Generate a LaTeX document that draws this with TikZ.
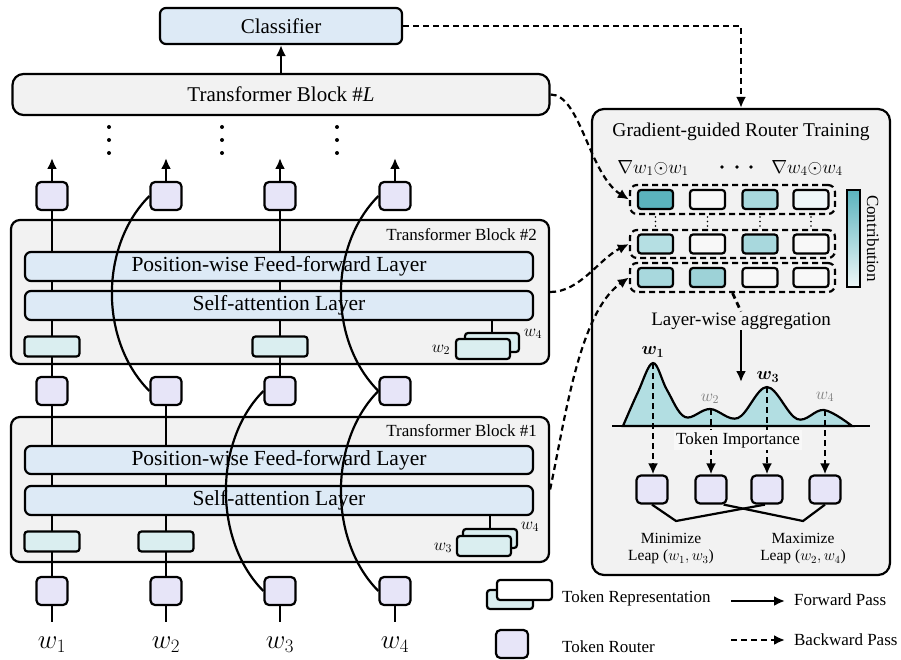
\RequirePackage{fix-cm}
\documentclass[tikz,border=0pt]{standalone}
\usepackage{bm}
\usepackage{fontspec}
\setmainfont{Liberation Serif}
\usetikzlibrary{arrows.meta,calc}
\definecolor{blockc}{HTML}{F2F2F2}
\definecolor{layerc}{HTML}{DDEAF6}
\definecolor{routerc}{HTML}{E7E5F8}
\definecolor{repc}{HTML}{DAEEF0}
\definecolor{curvec}{HTML}{B2DEE2}
\definecolor{cdark}{HTML}{5BB3BD}
\definecolor{cmed}{HTML}{A8D8DD}
\definecolor{cmedb}{HTML}{9DD2D7}
\definecolor{clite}{HTML}{B5DFE3}
\definecolor{cpale}{HTML}{EEF7F8}
\definecolor{cwhite}{HTML}{F8F8F8}
\definecolor{tokc}{HTML}{F8F8F8}
\newcommand{\myfs}[1]{\fontsize{#1}{#1}\selectfont}
\tikzset{every path/.append style={line width=2.2pt}}
\begin{document}
\begin{tikzpicture}[x=1pt,y=-1pt,line width=2.2pt,
  router/.style={draw,fill=routerc,rounded corners=4.5pt,minimum width=31pt,minimum height=28pt,inner sep=0pt},
  rep/.style={draw,fill=repc,rounded corners=3pt,minimum width=55pt,minimum height=20pt,inner sep=0pt},
  layerbox/.style={draw,fill=layerc,rounded corners=6pt,minimum width=508pt,minimum height=29pt,inner sep=0pt,font=\myfs{21.5}},
  blockbox/.style={draw,fill=blockc,rounded corners=9pt,minimum width=538pt,inner sep=0pt},
  cell/.style={draw,rounded corners=3pt,minimum width=35pt,minimum height=19pt,inner sep=0pt},
  rowbox/.style={draw,dash pattern=on 6pt off 4pt,rounded corners=7pt,minimum width=205pt,inner sep=0pt},
  conn/.style={draw,line width=2.2pt},
  vconn/.style={draw,line width=2.8pt},
  fwd/.style={vconn,-{Latex[length=11pt,width=10pt]}},
  bwd/.style={conn,dash pattern=on 6pt off 4pt,-{Latex[length=11pt,width=10pt]}},
  vbwd/.style={vconn,dash pattern=on 6pt off 4pt,-{Latex[length=11pt,width=10pt]}},
  lbl/.style={inner sep=0pt}
]
\useasboundingbox (0,0) rectangle (901,660);

% ---------- background boxes ----------
\node[blockbox,minimum width=537pt,minimum height=41pt,rounded corners=11pt,font=\myfs{21}] (bL) at (281,94.5) {Transformer Block \#\textit{L}};
\node[blockbox,minimum height=144pt] (b2) at (280,292) {};
\node[blockbox,minimum height=145pt] (b1) at (280,489.5) {};
\node[draw,fill=blockc,rounded corners=12pt,minimum width=298pt,minimum height=466pt,inner sep=0pt] (panel) at (741,342) {};

\node[draw,fill=layerc,rounded corners=6pt,minimum width=242pt,minimum height=36pt,inner sep=0pt,font=\myfs{21}] (cls) at (281,26) {Classifier};

% routers
\foreach \i/\x in {1/52,2/166,3/280,4/395}{
  \node[router] (r1\i) at (\x,591) {};
  \node[router] (r2\i) at (\x,391) {};
  \node[router] (r3\i) at (\x,196) {};
  \coordinate (top\i) at (\x,158);
  \coordinate (bot\i) at (\x,622);
}

% ---------- straight connectors (under layers) ----------
\path[vconn] (r11) -- (r21);
\path[vconn] (r21) -- (r31);
\path[vconn] (r12) -- (r22);
\path[vconn] (r23) -- (r33);
\foreach \i in {1,2,3,4}{
  \path[vconn] (r1\i.south) -- (bot\i);
  \path[fwd] (r3\i.north) -- (top\i);
}
\path[fwd] (bL) -- (cls);

\node[lbl,anchor=east,font=\myfs{17}] (t2) at (538,235) {Transformer Block \#2};
\node[lbl,anchor=east,font=\myfs{17}] (t1) at (538,431) {Transformer Block \#1};

% layers
\node[layerbox] (ff2) at (279,266.5) {Position-wise Feed-forward Layer};
\node[layerbox] (sa2) at (279,305.5) {Self-attention Layer};
\node[layerbox,minimum height=28pt] (ff1) at (279,460) {Position-wise Feed-forward Layer};
\node[layerbox] (sa1) at (279,500.5) {Self-attention Layer};

% token representations
\node[rep] (p21) at (52,346.5) {};
\node[rep] (p23) at (280,346.5) {};
\node[rep] (p11) at (52,541.5) {};
\node[rep] (p12) at (166,541.5) {};

\node[rep,minimum width=54pt,minimum height=19pt] (s2b) at (492,342.5) {};
\node[rep,minimum width=54pt,minimum height=20pt] (s2f) at (483,349) {};
\node[lbl,font=\myfs{17}] (s2l4) at (533,334) {$w_4$};
\node[lbl,font=\myfs{17}] (s2l2) at (441,350) {$w_2$};
\path[vconn] (s2b.north) -- (s2b.north |- sa2.south);

\node[rep,minimum width=54pt,minimum height=19pt] (s1b) at (490,538.5) {};
\node[rep,minimum width=54pt,minimum height=20pt] (s1f) at (484,546) {};
\node[lbl,font=\myfs{17}] (s1l4) at (530,527) {$w_4$};
\node[lbl,font=\myfs{17}] (s1l3) at (443,548) {$w_3$};
\path[vconn] (s1b.north) -- (s1b.north |- sa1.south);

% word labels
\foreach \i/\x in {1/52,2/166,3/280,4/395}{
  \node[lbl,font=\myfs{27}] (w\i) at (\x,645) {$w_{\i}$};
}

% skip curves
\path[conn] (r22.west) .. controls +(-50,-50) and +(-50,50) .. (r32.west);
\path[conn] (r24.west) .. controls +(-50,-50) and +(-50,50) .. (r34.west);
\path[conn] (r13.west) .. controls +(-50,-50) and +(-50,50) .. (r23.west);
\path[conn] (r14.west) .. controls +(-50,-50) and +(-50,50) .. (r24.west);

% vertical dots
\foreach \x in {109,222,337}{
  \foreach \y in {127,140,153}{
    \fill (\x,\y) circle (2pt);
  }
}

% ---------- right panel ----------
\node[lbl,font=\myfs{19.5}] (title) at (741,132) {Gradient-guided Router Training};
\node[lbl,font=\myfs{19}] (g1) at (653,168) {$\nabla w_1{\odot} w_1$};
\node[lbl,font=\myfs{19}] (g4) at (807,168) {$\nabla w_4{\odot} w_4$};
\foreach \x in {722,737,751}{ \fill (\x,167) circle (1.9pt); }

\node[rowbox,minimum height=29pt] (row1) at (732.5,199.5) {};
\node[rowbox,minimum height=28pt] (row2) at (732.5,244) {};
\node[rowbox,minimum height=29pt] (row3) at (732.5,277.5) {};

\foreach \c/\x [count=\k] in {cdark/655.5,cwhite/707.5,cmed/760,cpale/811}{
  \node[cell,fill=\c] (ca\k) at (\x,199.5) {};
}
\foreach \c/\x [count=\k] in {clite/655.5,cwhite/707.5,cmed/760,cwhite/811}{
  \node[cell,fill=\c] (cb\k) at (\x,244) {};
}
\foreach \c/\x [count=\k] in {cmed/655.5,cmedb/707.5,cwhite/760,cwhite/811}{
  \node[cell,fill=\c] (cc\k) at (\x,277.5) {};
}
\foreach \x in {655.5,707.5,760,811}{
  \foreach \y in {217,221.5,226}{ \fill (\x,\y) circle (0.9pt); }
}

\shade[top color=cdark,bottom color=cpale] (847,190) rectangle (860,287);
\draw (847,190) rectangle (860,287);
\node[lbl,rotate=-90,font=\myfs{17}] (contrib) at (873,238.5) {Contribution};

\path[bwd] (cls.east) -| (panel.north);
\path[bwd] (bL.east) .. controls +(30,0) and +(-40,-25) .. (row1.west);
\path[bwd] (b2.east) .. controls +(30,0) and +(-30,15) .. (row2.west);
\path[bwd] (b1.east) .. controls +(15,-70) and +(-50,35) .. (row3.west);

\node[lbl,font=\myfs{19}] (agg) at (741,321) {Layer-wise aggregation};
\path[vconn,dash pattern=on 6pt off 4pt] (row3.south) -- (agg.north);
\coordinate (aggend) at (741,382);
\path[fwd] (agg.south) -- (aggend);

% importance curve
\filldraw[fill=curvec] plot[smooth,tension=0.6] coordinates {(623,426) (638,392) (653,363) (667,390) (685,417) (710,409) (738,418) (767,387) (797,419) (824,410) (852,426)} -- cycle;
\draw (612,426) -- (870,426);

\node[lbl,font=\myfs{18}] (pk1) at (653,352) {$\bm{w_1}$};
\node[lbl,font=\myfs{18}] (pk3) at (768,377) {$\bm{w_3}$};
\node[lbl,font=\myfs{17},text=gray] (pk2) at (710,399) {$w_2$};
\node[lbl,font=\myfs{17},text=gray] (pk4) at (825,397) {$w_4$};

\foreach \i/\x in {1/652,2/711,3/767,4/825}{
  \node[router] (q\i) at (\x,489.5) {};
}
\coordinate (k1) at (653,363);
\coordinate (k2) at (711,409);
\coordinate (k3) at (767,387);
\coordinate (k4) at (825,410);
\foreach \i in {1,2,3,4}{
  \path[vbwd] (k\i) -- (k\i |- q\i.north);
}
\node[fill=tokc,inner sep=2pt,font=\myfs{17}] (imp) at (738,440) {Token Importance};

\coordinate (v1) at (676,521);
\coordinate (v2) at (803,521);
\path[conn] (q1.south) -- (v1) -- ($(q3.south)+(-2,0)$);
\path[conn] ($(q2.south east)+(-4,0)$) -- (v2) -- (q4.south);

\node[lbl,font=\myfs{15.5}] (mn1) at (671,538) {Minimize};
\node[lbl,font=\myfs{15.5}] (mn2) at (671,557) {Leap ($w_1, w_3$)};
\node[lbl,font=\myfs{15.5}] (mx1) at (803,538) {Maximize};
\node[lbl,font=\myfs{15.5}] (mx2) at (803,557) {Leap ($w_2, w_4$)};

% ---------- legend ----------
\node[rep,minimum width=46pt,minimum height=19pt] (lgb) at (510,599.5) {};
\node[draw,fill=white,rounded corners=3pt,minimum width=55pt,minimum height=20pt,inner sep=0pt] (lgf) at (524.5,590) {};
\node[lbl,anchor=west,font=\myfs{17}] (lgt1) at (561,598) {Token Representation};
\node[router,minimum width=32pt,minimum height=28pt] (lgr) at (512,644) {};
\node[lbl,anchor=west,font=\myfs{17}] (lgt2) at (561,647) {Token Router};
\coordinate (fa) at (731,601);
\coordinate (fb) at (785,601);
\path[fwd] (fa) -- (fb);
\node[lbl,anchor=west,font=\myfs{17}] (lgt3) at (793,600) {Forward Pass};
\coordinate (ba) at (731,640);
\coordinate (bb) at (785,640);
\path[bwd] (ba) -- (bb);
\node[lbl,anchor=west,font=\myfs{17}] (lgt4) at (793,640) {Backward Pass};
\end{tikzpicture}
\end{document}
